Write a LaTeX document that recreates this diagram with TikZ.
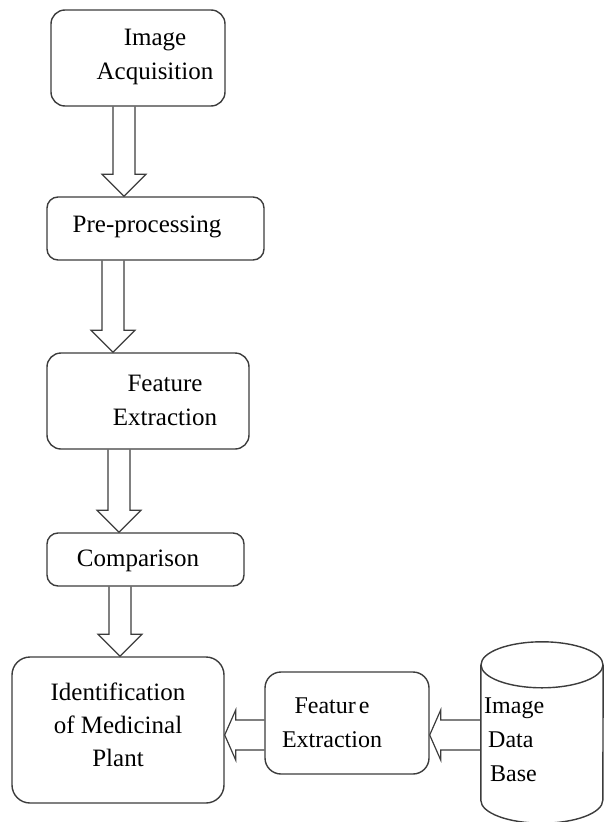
\documentclass[tikz,border=0pt]{standalone}
\usepackage{fontspec}
\setmainfont{Liberation Serif}
\usetikzlibrary{calc}
\definecolor{linegray}{RGB}{60,60,60}

\tikzset{
  box/.style={draw=linegray, line width=1.4pt, rounded corners=14pt, inner sep=0pt},
  boxtext/.style={align=center, inner sep=0pt, font=\fontsize{25}{34}\selectfont},
  lowtext/.style={align=center, inner sep=0pt, font=\fontsize{24}{34}\selectfont},
  blkarrow/.style={draw=linegray, line width=1.2pt, line join=miter},
}

% hollow block arrow pointing down, at the x of #1, from #2 to #3
\newcommand{\downblk}[3]{%
  \draw[blkarrow] ($(#1 |- #2.south)+(-11,0)$) -- ($(#1 |- #3.north)+(-11,-22)$)
    -- ($(#1 |- #3.north)+(-22,-22)$) -- (#1 |- #3.north)
    -- ($(#1 |- #3.north)+(22,-22)$) -- ($(#1 |- #3.north)+(11,-22)$)
    -- ($(#1 |- #2.south)+(11,0)$);}
% hollow block arrow pointing left, at the y of #1, from #2 to #3
\newcommand{\leftblk}[3]{%
  \draw[blkarrow] ($(#2.west |- #1)+(0,-15)$) -- ($(#3.east |- #1)+(11,-15)$)
    -- ($(#3.east |- #1)+(11,-25)$) -- (#3.east |- #1)
    -- ($(#3.east |- #1)+(11,25)$) -- ($(#3.east |- #1)+(11,15)$)
    -- ($(#2.west |- #1)+(0,15)$);}

\begin{document}
\begin{tikzpicture}[x=1pt,y=-1pt]
\useasboundingbox (0,0) rectangle (604,822);

\node[box, minimum width=174, minimum height=96] (acq) at (138,58) {};
\node[box, rounded corners=11pt, minimum width=217, minimum height=63] (pre) at (155.5,228.5) {};
\node[box, minimum width=202, minimum height=96] (feat) at (148,401) {};
\node[box, rounded corners=11pt, minimum width=197, minimum height=53] (comp) at (145.5,559.5) {};
\node[box, rounded corners=18pt, minimum width=212, minimum height=146] (ident) at (118,730) {};
\node[box, rounded corners=16pt, minimum width=164, minimum height=102] (featdb) at (347,723) {};

% image data base
\node[inner sep=0pt, minimum width=122, minimum height=181] (db) at (542,732.5) {};
\draw[linegray, line width=1.4pt] ($(db.north west)+(0,23)$) -- ($(db.south west)+(0,-23)$)
  arc[start angle=180, end angle=360, x radius=61pt, y radius=23pt]
  -- ($(db.north east)+(0,23)$);
\draw[linegray, line width=1.4pt] ($(db.north)+(0,23)$) ellipse[x radius=61pt, y radius=23pt];

\node[boxtext] (acqtxt) at (155,57) {Image\\Acquisition};
\node[boxtext] (pretxt) at (147,227) {Pre-processing};
\node[boxtext] (feattxt) at (165,400) {Feature\\Extraction};
\node[boxtext] (comptxt) at (138,561) {Comparison};
\node[lowtext, font=\fontsize{25}{33}\selectfont] (identtxt) at (118,725) {Identification\\of Medicinal\\Plant};
\node[lowtext] (featdbtxt) at (332,723) {Featur\hspace{3pt}e\\Extraction};
\node[lowtext, align=left, anchor=west] (dbtxt) at (484,740) {Image\\\hspace*{4pt}Data\\\hspace*{6pt}Base};

\coordinate (a1) at (124,0);
\coordinate (a2) at (113,0);
\coordinate (a3) at (119,0);
\coordinate (a4) at (120,0);
\coordinate (h1) at (0,735);

\downblk{a1}{acq}{pre}
\downblk{a2}{pre}{feat}
\downblk{a3}{feat}{comp}
\downblk{a4}{comp}{ident}
\leftblk{h1}{featdb}{ident}
\leftblk{h1}{db}{featdb}
\end{tikzpicture}
\end{document}
